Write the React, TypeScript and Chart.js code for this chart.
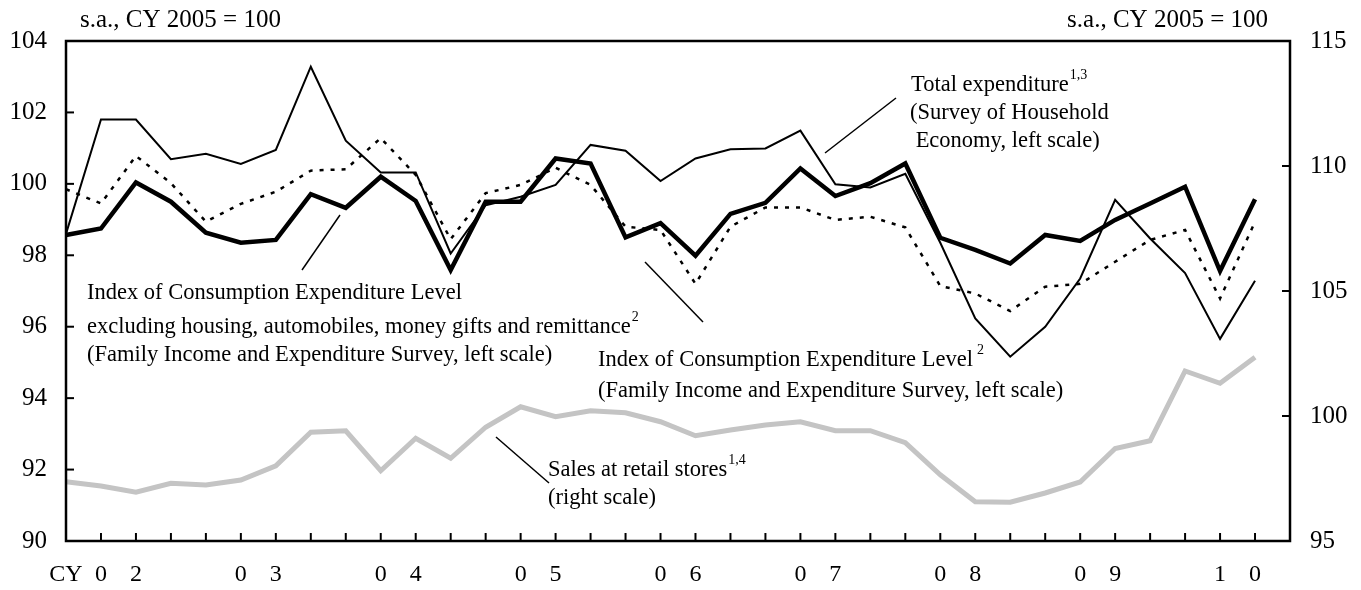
import React, { useEffect, useRef } from "react";
import { Chart, registerables } from "chart.js";

Chart.register(...registerables);

// Quarterly, 2002 Q1 .. 2010 Q3 (axis runs to 2010 Q4)
const xLabels = [
  "CY", "0", "2", "", "", "0", "3", "", "", "0", "4", "", "", "0", "5", "", "", "0",
  "6", "", "", "0", "7", "", "", "0", "8", "", "", "0", "9", "", "", "1", "0", "",
];

// Total expenditure (Survey of Household Economy, left scale)
const totalExpenditure = [
  98.6, 101.8, 101.8, 100.69, 100.84, 100.56, 100.95, 103.28, 101.21, 100.32, 100.32, 98.05,
  99.4, 99.64, 99.97, 101.09, 100.93, 100.08, 100.71, 100.97, 100.99, 101.49, 99.99, 99.9,
  100.28, 98.35, 96.23, 95.16, 96.0, 97.35, 99.55, 98.47, 97.5, 95.66, 97.29,
];

// Index of Consumption Expenditure Level excluding housing etc. (left scale)
const ceiExcluding = [
  98.57, 98.75, 100.04, 99.5, 98.63, 98.35, 98.43, 99.71, 99.33, 100.2, 99.52, 97.59,
  99.5, 99.5, 100.71, 100.57, 98.5, 98.9, 97.99, 99.16, 99.47, 100.43, 99.66, 100.02,
  100.57, 98.49, 98.15, 97.77, 98.57, 98.4, 98.99, 99.45, 99.92, 97.56, 99.57,
];

// Index of Consumption Expenditure Level (left scale)
const ceiLevel = [
  99.85, 99.45, 100.78, 100.02, 98.94, 99.44, 99.78, 100.37, 100.41, 101.28, 100.25, 98.45,
  99.74, 99.97, 100.45, 99.97, 98.8, 98.71, 97.2, 98.8, 99.34, 99.34, 98.99, 99.08,
  98.78, 97.14, 96.93, 96.44, 97.12, 97.2, 97.82, 98.43, 98.71, 96.79, 98.94,
];

// Sales at retail stores (right scale)
const retailSales = [
  97.37, 97.2, 96.95, 97.31, 97.24, 97.44, 98.01, 99.35, 99.41, 97.81, 99.11, 98.31,
  99.55, 100.37, 99.97, 100.21, 100.13, 99.77, 99.21, 99.44, 99.64, 99.77, 99.41, 99.41,
  98.93, 97.65, 96.57, 96.55, 96.92, 97.36, 98.7, 99.01, 101.8, 101.31, 102.35,
];

const FONT = '"Liberation Serif", "Times New Roman", serif';

const decorPlugin = {
  id: "decor",
  afterDraw(chart: any) {
    const ctx = chart.ctx as CanvasRenderingContext2D;
    const { left, right, top, bottom } = chart.chartArea;
    ctx.save();
    ctx.strokeStyle = "#000";
    ctx.fillStyle = "#000";

    // frame
    ctx.lineWidth = 2.5;
    ctx.strokeRect(left, top, right - left, bottom - top);

    // inside ticks
    ctx.lineWidth = 2;
    const yL = chart.scales.yL;
    yL.ticks.forEach((t: any) => {
      const y = yL.getPixelForValue(t.value);
      ctx.beginPath();
      ctx.moveTo(left, y);
      ctx.lineTo(left + 8, y);
      ctx.stroke();
    });
    const yR = chart.scales.yR;
    yR.ticks.forEach((t: any) => {
      const y = yR.getPixelForValue(t.value);
      ctx.beginPath();
      ctx.moveTo(right, y);
      ctx.lineTo(right - 8, y);
      ctx.stroke();
    });
    const xs = chart.scales.x;
    for (let i = 0; i < xLabels.length; i++) {
      const x = xs.getPixelForValue(i);
      ctx.beginPath();
      ctx.moveTo(x, bottom);
      ctx.lineTo(x, bottom - 8);
      ctx.stroke();
    }

    // unit labels
    ctx.textBaseline = "middle";
    ctx.font = `25px ${FONT}`;
    ctx.textAlign = "left";
    ctx.fillText("s.a., CY 2005 = 100", 80, 20);
    ctx.textAlign = "right";
    ctx.fillText("s.a., CY 2005 = 100", 1268, 20);
    ctx.textAlign = "left";

    const txt = (s: string, x: number, y: number, sup?: string, gap = 1) => {
      ctx.font = `22.5px ${FONT}`;
      ctx.fillText(s, x, y);
      if (sup) {
        const w = ctx.measureText(s).width;
        ctx.font = `14px ${FONT}`;
        ctx.fillText(sup, x + w + gap, y - 10);
      }
    };

    txt("Total expenditure", 911, 85, "1,3");
    txt("(Survey of Household", 910, 113);
    txt(" Economy, left scale)", 910, 141);

    txt("Index of Consumption Expenditure Level", 87, 293);
    txt("excluding housing, automobiles, money gifts and remittance", 87, 327, "2");
    txt("(Family Income and Expenditure Survey, left scale)", 87, 355);

    txt("Index of Consumption Expenditure Level", 598, 360, "2", 4);
    txt("(Family Income and Expenditure Survey, left scale)", 598, 391);

    txt("Sales at retail stores", 548, 470, "1,4");
    txt("(right scale)", 548, 498);

    // pointer lines
    ctx.lineWidth = 1.5;
    const seg = (x1: number, y1: number, x2: number, y2: number) => {
      ctx.beginPath();
      ctx.moveTo(x1, y1);
      ctx.lineTo(x2, y2);
      ctx.stroke();
    };
    seg(825, 153, 896, 98);
    seg(302, 270, 340, 215);
    seg(645, 262, 703, 322);
    seg(496, 437, 549, 483);

    ctx.restore();
  },
};

export default function App() {
  const ref = useRef<HTMLCanvasElement>(null);

  useEffect(() => {
    document.body.style.margin = "0";
    const canvas = ref.current;
    if (!canvas) return;
    const chart = new Chart(canvas, {
      type: "line",
      data: {
        labels: xLabels,
        datasets: [
          {
            label: "Index of Consumption Expenditure Level excluding housing, automobiles, money gifts and remittance",
            data: ceiExcluding,
            yAxisID: "yL",
            borderColor: "#000",
            borderWidth: 4.5,
            pointRadius: 0,
            tension: 0,
            borderJoinStyle: "miter",
          },
          {
            label: "Total expenditure",
            data: totalExpenditure,
            yAxisID: "yL",
            borderColor: "#000",
            borderWidth: 2,
            pointRadius: 0,
            tension: 0,
            borderJoinStyle: "miter",
          },
          {
            label: "Index of Consumption Expenditure Level",
            data: ceiLevel,
            yAxisID: "yL",
            borderColor: "#000",
            borderWidth: 2.5,
            borderDash: [4, 7],
            pointRadius: 0,
            tension: 0,
          },
          {
            label: "Sales at retail stores",
            data: retailSales,
            yAxisID: "yR",
            borderColor: "#c4c4c4",
            borderWidth: 5,
            pointRadius: 0,
            tension: 0,
          },
        ],
      },
      options: {
        animation: false,
        responsive: false,
        layout: { padding: { top: 41, left: 0, right: 0, bottom: 0 } },
        plugins: {
          legend: { display: false },
          tooltip: { enabled: false },
          title: { display: false },
        },
        scales: {
          x: {
            type: "category",
            offset: false,
            grid: { display: false, drawTicks: false },
            border: { display: false },
            ticks: {
              autoSkip: false,
              maxRotation: 0,
              minRotation: 0,
              padding: 19,
              color: "#000",
              font: { family: FONT, size: 24 },
            },
            afterFit: (s: any) => {
              s.height = 49;
            },
          },
          yL: {
            position: "left",
            min: 90,
            max: 104,
            grid: { display: false, drawTicks: false },
            border: { display: false },
            ticks: {
              stepSize: 2,
              padding: 19,
              color: "#000",
              font: { family: FONT, size: 25 },
            },
            afterFit: (s: any) => {
              s.width = 66;
            },
          },
          yR: {
            position: "right",
            min: 95,
            max: 115,
            grid: { display: false, drawTicks: false },
            border: { display: false },
            ticks: {
              stepSize: 5,
              padding: 20,
              color: "#000",
              font: { family: FONT, size: 25 },
            },
            afterFit: (s: any) => {
              s.width = 71;
            },
          },
        },
      },
      plugins: [decorPlugin],
    });
    return () => chart.destroy();
  }, []);

  return (
    <div style={{ width: 1361, height: 590 }}>
      <canvas ref={ref} width={1361} height={590} style={{ display: "block" }} />
    </div>
  );
}
